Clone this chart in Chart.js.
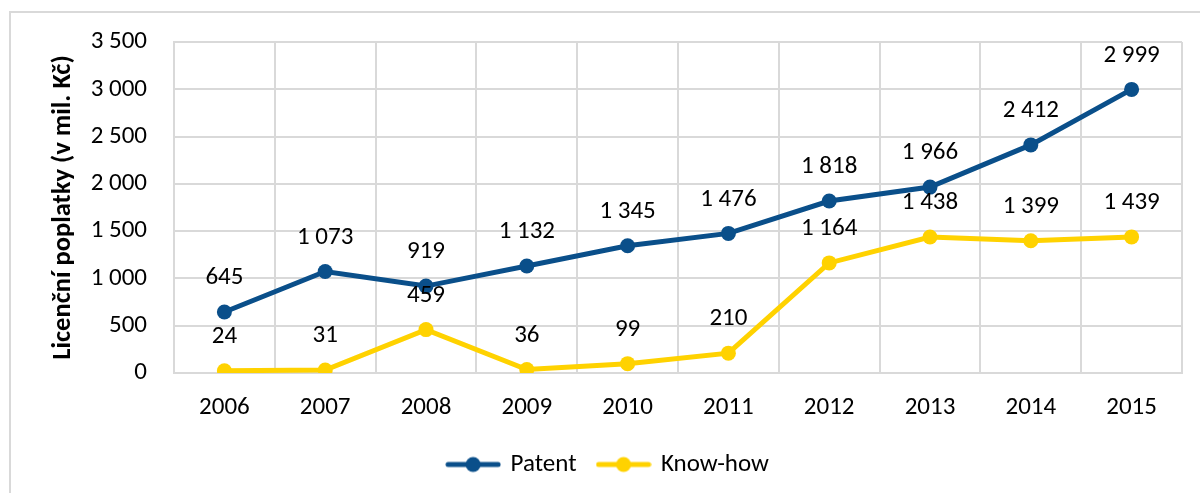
<!DOCTYPE html>
<html>
<head>
<meta charset="utf-8">
<script src="https://cdn.jsdelivr.net/npm/chart.js@4.4.1/dist/chart.umd.min.js"></script>
<style>
    html, body { margin: 0; padding: 0; background: #fff; overflow: hidden; }
    #wrap { position: relative; width: 1200px; height: 493px; }
    #frame { position: absolute; left: 9px; top: 11px; width: 1300px; height: 600px; border-left: 2px solid #d9d9d9; border-top: 2px solid #d9d9d9; box-sizing: border-box; }
    #lineChart { position: absolute; left: 0; top: 0; }
</style>
</head>
<body>
<div id="wrap">
    <div id="frame"></div>
    <canvas id="lineChart" width="1200" height="493"></canvas>
</div>
<script>
var years = ['2006', '2007', '2008', '2009', '2010', '2011', '2012', '2013', '2014', '2015'];
var patent = [645, 1073, 919, 1132, 1345, 1476, 1818, 1966, 2412, 2999];
var knowHow = [24, 31, 459, 36, 99, 210, 1164, 1438, 1399, 1439];
var seriesNames = ['Patent', 'Know-how'];
var seriesColors = ['#0a4f8a', '#ffd200'];
var yTicks = [0, 500, 1000, 1500, 2000, 2500, 3000, 3500];
var yTitle = 'Licenční poplatky (v mil. Kč)';

var fontFamily = 'Carlito, Lato, "Liberation Sans", sans-serif';

function fmt(v) {
    return String(v).replace(/\B(?=(\d{3})+(?!\d))/g, ' ');
}

// legend marker: line with a dot, like the office charts
function legendMarker(color) {
    var c = document.createElement('canvas');
    c.width = 56;
    c.height = 18;
    var g = c.getContext('2d');
    g.strokeStyle = color;
    g.lineWidth = 5;
    g.lineCap = 'round';
    g.beginPath();
    g.moveTo(3, 9);
    g.lineTo(53, 9);
    g.stroke();
    g.fillStyle = color;
    g.beginPath();
    g.arc(28, 9, 7.5, 0, Math.PI * 2);
    g.fill();
    return c;
}

var valueLabels = {
    id: 'valueLabels',
    afterDatasetsDraw: function (chart) {
        var ctx = chart.ctx;
        ctx.save();
        ctx.font = '25px ' + fontFamily;
        ctx.fillStyle = '#000';
        ctx.textAlign = 'center';
        ctx.textBaseline = 'middle';
        chart.data.datasets.forEach(function (ds, i) {
            var meta = chart.getDatasetMeta(i);
            meta.data.forEach(function (pt, j) {
                ctx.fillText(fmt(ds.data[j]), pt.x, pt.y - 34);
            });
        });
        ctx.restore();
    }
};

var ctx = document.getElementById('lineChart').getContext('2d');

var myChart = new Chart(ctx, {
    type: 'line',
    data: {
        labels: years,
        datasets: [
            {
                label: seriesNames[0],
                data: patent,
                borderColor: seriesColors[0],
                backgroundColor: seriesColors[0],
                borderWidth: 5,
                pointRadius: 7.5,
                pointHoverRadius: 7.5,
                pointBorderWidth: 0,
                pointStyle: 'circle',
                tension: 0
            },
            {
                label: seriesNames[1],
                data: knowHow,
                borderColor: seriesColors[1],
                backgroundColor: seriesColors[1],
                borderWidth: 5,
                pointRadius: 7.5,
                pointHoverRadius: 7.5,
                pointBorderWidth: 0,
                pointStyle: 'circle',
                tension: 0
            }
        ]
    },
    options: {
        responsive: false,
        animation: false,
        layout: {
            padding: { left: 35, right: 18, top: 41, bottom: 6 }
        },
        scales: {
            x: {
                offset: true,
                grid: { color: '#d9d9d9', lineWidth: 2, offset: true, drawTicks: false },
                border: { color: '#d9d9d9', width: 2 },
                ticks: { color: '#000', padding: 20, font: { family: fontFamily, size: 25 }, maxRotation: 0 },
                afterFit: function (scale) { scale.height = 57; }
            },
            y: {
                min: 0,
                max: 3500,
                afterBuildTicks: function (scale) {
                    scale.ticks = yTicks.map(function (v) { return { value: v }; });
                },
                grid: { color: '#d9d9d9', lineWidth: 2, drawTicks: false },
                border: { color: '#d9d9d9', width: 2 },
                ticks: {
                    color: '#000',
                    padding: 27,
                    font: { family: fontFamily, size: 25 },
                    callback: function (v) { return fmt(v); }
                },
                title: {
                    display: true,
                    text: yTitle,
                    color: '#000',
                    font: { family: fontFamily, size: 26.5, weight: 'bold' },
                    padding: { top: 12, bottom: 0 }
                },
                afterFit: function (scale) { scale.width = 139; }
            }
        },
        plugins: {
            legend: {
                position: 'bottom',
                labels: {
                    color: '#000',
                    font: { family: fontFamily, size: 25 },
                    usePointStyle: true,
                    pointStyleWidth: 50,
                    padding: 22,
                    generateLabels: function (chart) {
                        return chart.data.datasets.map(function (ds, i) {
                            return {
                                text: ds.label,
                                pointStyle: legendMarker(seriesColors[i]),
                                fillStyle: seriesColors[i],
                                strokeStyle: seriesColors[i],
                                lineWidth: 0,
                                fontColor: '#000',
                                hidden: false,
                                datasetIndex: i
                            };
                        });
                    }
                }
            },
            tooltip: { enabled: false }
        }
    },
    plugins: [valueLabels]
});
</script>
</body>
</html>
